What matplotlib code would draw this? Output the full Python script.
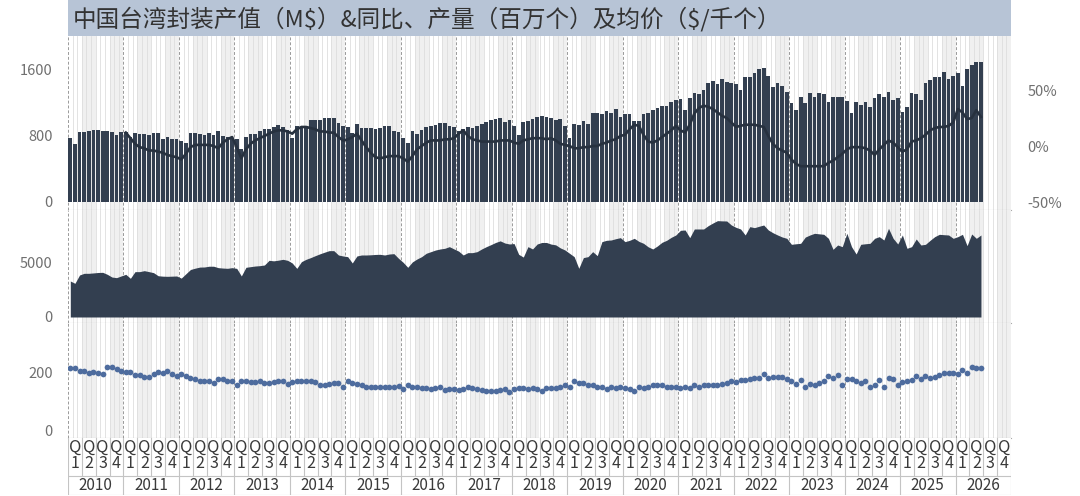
import numpy as np
import matplotlib.pyplot as plt

plt.rcParams['font.family'] = ['Noto Sans CJK SC', 'DejaVu Sans']

title = r'中国台湾封装产值（M\$）&同比、产量（百万个）及均价（\$/千个）'
years = list(range(2010, 2027))
quarters = ['1', '2', '3', '4']

# monthly, starting 2010-01
value_musd = [
    772, 703, 845, 845, 865, 873, 873, 861, 861, 845, 812, 845,          # 2010
    845, 790, 833, 821, 821, 812, 833, 833, 760, 792, 760, 760,          # 2011
    745, 720, 838, 838, 829, 812, 833, 812, 861, 800, 792, 770,          # 2012
    760, 640, 784, 821, 825, 861, 881, 881, 905, 934, 905, 873,          # 2013
    772, 925, 905, 925, 994, 994, 994, 1014, 1022, 1014, 953, 921,       # 2014
    905, 840, 950, 893, 893, 893, 881, 893, 921, 921, 865, 852,          # 2015
    772, 713, 861, 825, 873, 913, 925, 937, 953, 953, 921, 905,          # 2016
    860, 880, 915, 895, 920, 940, 970, 995, 1000, 1014, 975, 995,        # 2017
    925, 810, 975, 985, 1000, 1030, 1040, 1030, 1014, 995, 1000, 920,    # 2018
    770, 940, 930, 980, 950, 1080, 1075, 1065, 1105, 1075, 1125, 1035,   # 2019
    1065, 1065, 980, 980, 1065, 1080, 1110, 1135, 1160, 1160, 1215, 1235,  # 2020
    1248, 1118, 1257, 1317, 1305, 1357, 1438, 1467, 1426, 1487, 1454, 1446,  # 2021
    1426, 1357, 1519, 1511, 1568, 1608, 1628, 1531, 1398, 1438, 1410, 1329,  # 2022
    1196, 1115, 1269, 1204, 1325, 1277, 1317, 1305, 1216, 1277, 1277, 1269,  # 2023
    1228, 1075, 1216, 1176, 1208, 1155, 1257, 1305, 1277, 1337, 1236, 1257,  # 2024
    1095, 1155, 1317, 1309, 1236, 1438, 1479, 1511, 1519, 1580, 1487, 1527,  # 2025
    1560, 1406, 1608, 1661, 1701, 1693,                                      # 2026
]

yoy_pct = [
    np.nan, np.nan, np.nan, np.nan, np.nan, np.nan, np.nan, np.nan, np.nan, np.nan, np.nan, np.nan,
    12, 7, 2, -1, -2, -4, -4, -5, -6, -8, -9, -10,
    -12, -7, -1, 1, 1, 1, 1, 0, -2, 3, 6, 8,
    -1, -11, -3, 2, 5, 7, 9, 11, 13, 14, 14, 13,
    11, 15, 17, 17, 16, 15, 13, 13, 12, 12, 8, 5,
    6, 8, 11, 5, -1, -6, -10, -11, -10, -9, -9, -9,
    -11, -14, -9, -3, 0, 3, 5, 5, 5, 6, 6, 7,
    11, 14, 9, 6, 5, 4, 4, 4, 4, 5, 5, 5,
    3, 2, 5, 6, 7, 7, 7, 6, 7, 5, 2, 1,
    0, -2, -2, -1, -1, 0, 0, 2, 3, 5, 6, 9,
    10, 15, 19, 18, 10, 4, 3, 5, 8, 11, 14, 18,
    14, 12, 19, 29, 34, 36, 35, 33, 30, 27, 25, 21,
    17, 18, 19, 19, 19, 18, 17, 9, 2, -2, -4, -6,
    -12, -16, -18, -18, -18, -18, -18, -18, -15, -13, -10, -7,
    -3, -1, -1, -1, -2, -4, -8, -3, 1, 5, 3, -1,
    -5, -3, 4, 5, 7, 10, 14, 16, 17, 17, 18, 21,
    33, 30, 24, 25, 32, 26,
]

output_mn = [
    3334, 3118, 3889, 4044, 4044, 4080, 4120, 4136, 3950, 3700, 3642, 3800,
    3951, 3581, 4198, 4200, 4290, 4200, 4106, 3820, 3780, 3766, 3780, 3797,
    3600, 4000, 4400, 4520, 4620, 4630, 4700, 4700, 4568, 4530, 4507, 4568,
    4500, 3800, 4600, 4661, 4720, 4753, 4815, 5247, 5200, 5260, 5340, 5247,
    5000, 4500, 5124, 5340, 5500, 5680, 5850, 6000, 6143, 6143, 5741, 5650,
    5587, 5000, 5650, 5741, 5741, 5760, 5790, 5803, 5741, 5830, 5865, 5433,
    5062, 4600, 5100, 5371, 5587, 5900, 6050, 6200, 6297, 6359, 6513, 6300,
    6100, 5741, 5958, 5958, 6050, 6300, 6513, 6700, 6900, 7050, 6850, 6760,
    6800, 5800, 5550, 6513, 6300, 6760, 6900, 6900, 6750, 6680, 6400, 6204,
    5896, 5587, 4507, 5500, 5587, 6050, 5680, 6976, 7100, 7130, 7250, 7346,
    6976, 7100, 7284, 7000, 6822, 6500, 6297, 6575, 6914, 7100, 7377, 7593,
    8026, 8056, 7346, 8149, 8149, 8149, 8458, 8700, 8921, 8900, 8890, 8519,
    8300, 8149, 7593, 8365, 8272, 8400, 8519, 8056, 7800, 7593, 7408, 7284,
    6729, 6780, 6822, 7400, 7593, 7747, 7700, 7655, 7284, 6266, 6667, 6513,
    7747, 6513, 5834, 6729, 6780, 6822, 7284, 7439, 7130, 8210, 7284, 6760,
    7593, 6359, 6513, 7223, 6667, 6729, 7100, 7439, 7655, 7620, 7593, 7284,
    7439, 7655, 6606, 7686, 7284, 7593,
]

asp = [
    216, 216, 208, 207, 199, 205, 201, 197, 220, 222, 214, 208,
    202, 202, 193, 193, 185, 187, 197, 205, 201, 208, 195, 191,
    195, 191, 184, 178, 172, 172, 170, 166, 178, 178, 173, 170,
    158, 170, 170, 167, 167, 173, 164, 164, 167, 170, 170, 161,
    167, 170, 172, 173, 173, 167, 158, 158, 160, 166, 164, 152,
    170, 164, 160, 156, 152, 149, 149, 149, 152, 152, 152, 154,
    144, 158, 152, 149, 146, 146, 144, 146, 149, 140, 144, 143,
    140, 143, 149, 146, 143, 140, 138, 138, 138, 140, 143, 132,
    144, 146, 146, 144, 146, 143, 138, 146, 146, 146, 149, 158,
    152, 170, 164, 164, 156, 158, 149, 149, 144, 150, 146, 149,
    146, 143, 138, 150, 146, 152, 158, 158, 158, 151, 149, 150,
    146, 149, 146, 158, 150, 156, 158, 158, 158, 161, 164, 170,
    167, 176, 176, 179, 184, 181, 197, 184, 185, 187, 187, 179,
    173, 160, 176, 152, 161, 158, 164, 170, 190, 184, 193, 156,
    179, 179, 173, 166, 172, 152, 158, 176, 150, 181, 179, 156,
    167, 173, 176, 191, 179, 190, 184, 187, 193, 199, 199, 199,
    195, 211, 201, 220, 216, 216,
]

W, H = 1080, 496
L, R = 68, 1011
N_SLOTS = 12 * len(years)

bar_col = '#333f50'
line_col = '#27313f'
dot_col = '#4e6c9e'
tick_col = '#707070'
hdr_col = '#3a3a3a'


def rect(x0, y0, x1, y1):
    return [x0 / W, 1 - y1 / H, (x1 - x0) / W, (y1 - y0) / H]


def decorate(ax):
    ax.set_xlim(0, N_SLOTS)
    for q in range(N_SLOTS // 3):
        if q % 2 == 1:
            ax.axvspan(q * 3, q * 3 + 3, color='#f0f0f0', lw=0, zorder=0)
    for m in range(1, N_SLOTS):
        if m % 12:
            ax.axvline(m, color='#dedede', lw=0.6, zorder=0.5)
    for m in range(0, N_SLOTS + 1, 12):
        ax.axvline(m, color='#9a9a9a', lw=0.7, ls=(0, (3, 2)), zorder=0.6)
    for s in ['top', 'left', 'right']:
        ax.spines[s].set_visible(False)
    ax.spines['bottom'].set_color('#a8a8a8')
    ax.spines['bottom'].set_linewidth(0.8)
    ax.set_xticks([])
    ax.tick_params(axis='y', length=0, labelsize=10.5, labelcolor=tick_col, pad=11)


fig = plt.figure(figsize=(W / 100, H / 100), dpi=100)

# title bar
axt = fig.add_axes(rect(L, 0, R, 36))
axt.set_facecolor('#b7c4d6')
axt.set_xticks([])
axt.set_yticks([])
for s in axt.spines.values():
    s.set_visible(False)
axt.text(0.005, 0.47, title, fontsize=17, color='#333333', va='center', ha='left',
         transform=axt.transAxes)

x = np.arange(len(value_musd)) + 0.5

# panel 1: value bars + yoy line
ax1 = fig.add_axes(rect(L, 36, R, 210))
decorate(ax1)
ax1.bar(x, value_musd, width=0.8, color=bar_col, zorder=2)
ax1.set_ylim(-97, 2012)
ax1.set_yticks([0, 800, 1600])

ax1b = ax1.twinx()
ax1b.plot(np.arange(len(yoy_pct)) + 0.5, yoy_pct, color=line_col, lw=1.9, zorder=3)
ax1b.set_ylim(-57.1, 98.2)
ax1b.set_yticks([-50, 0, 50])
ax1b.set_yticklabels(['-50%', '0%', '50%'])
for s in ax1b.spines.values():
    s.set_visible(False)
ax1b.tick_params(axis='y', length=0, labelsize=10.5, labelcolor=tick_col, pad=12)

# panel 2: output area
ax2 = fig.add_axes(rect(L, 210, R, 323))
decorate(ax2)
ax2.fill_between(np.arange(len(output_mn)) + 0.5, output_mn, 0, color=bar_col, lw=0, zorder=2)
ax2.set_ylim(-556, 9907)
ax2.set_yticks([0, 5000])

# panel 3: average price dots
ax3 = fig.add_axes(rect(L, 323, R, 438))
decorate(ax3)
ax3.scatter(np.arange(len(asp)) + 0.5, asp, s=17, color=dot_col, lw=0, zorder=3)
ax3.set_ylim(-28, 375)
ax3.set_yticks([0, 200])

# quarter / year header
axh = fig.add_axes(rect(L, 438, R, 495))
axh.set_xlim(0, N_SLOTS)
axh.set_ylim(0, 1)
axh.set_xticks([])
axh.set_yticks([])
for s in axh.spines.values():
    s.set_visible(False)
gc = '#c4c4c4'
axh.axhline(0.333, color=gc, lw=0.8)
axh.axhline(0.004, color=gc, lw=0.8)
for q in range(N_SLOTS // 3 + 1):
    if q % 4:
        axh.plot([q * 3, q * 3], [0.333, 1], color=gc, lw=0.8)
    else:
        axh.plot([q * 3, q * 3], [0, 1], color=gc, lw=0.8)
for yi, yr in enumerate(years):
    for qi, qn in enumerate(quarters):
        cx = yi * 12 + qi * 3 + 1.5
        axh.text(cx, 0.84, 'Q', ha='center', va='center', fontsize=12, color=hdr_col)
        axh.text(cx, 0.56, qn, ha='center', va='center', fontsize=11.5, color=hdr_col)
    axh.text(yi * 12 + 6, 0.16, str(yr), ha='center', va='center', fontsize=11, color=hdr_col)

fig.savefig('out.png', dpi=100)
